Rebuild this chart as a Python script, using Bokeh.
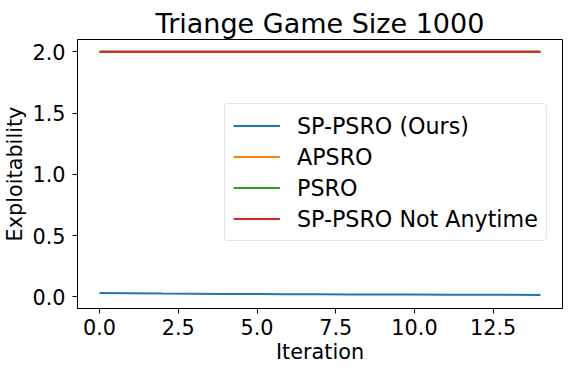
from bokeh.plotting import figure
from bokeh.embed import file_html
from bokeh.resources import INLINE
from bokeh.models import Range1d, FixedTicker, PrintfTickFormatter, Legend, LegendItem

iterations = list(range(15))
sp_psro = [0.030, 0.028, 0.026, 0.025, 0.023, 0.022, 0.021, 0.020, 0.019, 0.018, 0.018, 0.017, 0.017, 0.016, 0.015]
apsro = [2.0] * 15
psro = [2.0] * 15
sp_psro_not_anytime = [2.0] * 15
series_names = ["SP-PSRO (Ours)", "APSRO", "PSRO", "SP-PSRO Not Anytime"]
x_ticks = [0.0, 2.5, 5.0, 7.5, 10.0, 12.5]
y_ticks = [0.0, 0.5, 1.0, 1.5, 2.0]

colors = ["#1f77b4", "#ff7f0e", "#2ca02c", "#d62728"]
FONT = "DejaVu Sans"

p = figure(width=587, height=371, output_backend="svg", toolbar_location=None,
           x_range=Range1d(-0.7, 14.7), y_range=Range1d(-0.096, 2.101),
           min_border_left=76, min_border_right=25, min_border_top=39, min_border_bottom=63)

p.title.text = "Triange Game Size 1000"
p.title.text_font = FONT
p.title.text_font_size = "27px"
p.title.text_font_style = "normal"
p.title.align = "center"
p.title.text_color = "#000000"
p.title.text_line_height = 1.0
p.title.standoff = 2
p.title.offset = 0

p.xgrid.visible = False
p.ygrid.visible = False
p.outline_line_color = "#000000"
p.outline_line_width = 1
p.background_fill_color = "white"

for ax in (p.xaxis[0], p.yaxis[0]):
    ax.axis_line_color = "#000000"
    ax.major_tick_line_color = "#000000"
    ax.major_tick_out = 5
    ax.major_tick_in = 0
    ax.minor_tick_line_color = None
    ax.major_label_text_font = FONT
    ax.major_label_text_font_size = "20.8px"
    ax.major_label_text_color = "#000000"
    ax.major_label_text_line_height = 1.0
    ax.axis_label_text_font = FONT
    ax.axis_label_text_font_size = "20.8px"
    ax.axis_label_text_font_style = "normal"
    ax.axis_label_text_color = "#000000"
    ax.axis_label_text_line_height = 1.0
    ax.formatter = PrintfTickFormatter(format="%.1f")

p.xaxis[0].ticker = FixedTicker(ticks=x_ticks)
p.yaxis[0].ticker = FixedTicker(ticks=y_ticks)
p.xaxis[0].axis_label = "Iteration"
p.yaxis[0].axis_label = "Exploitability"
p.xaxis[0].major_label_standoff = 5
p.yaxis[0].major_label_standoff = 7
p.xaxis[0].axis_label_standoff = 2
p.yaxis[0].axis_label_standoff = 2

items = []
for name, ys, c in zip(series_names, [sp_psro, apsro, psro, sp_psro_not_anytime], colors):
    r = p.line(iterations, ys, line_color=c, line_width=2)
    items.append(LegendItem(label=name, renderers=[r]))

legend = Legend(items=items, location=(147, 67))
legend.label_text_font = FONT
legend.label_text_font_size = "22.2px"
legend.label_text_color = "#000000"
legend.glyph_width = 47
legend.glyph_height = 27
legend.label_height = 27
legend.spacing = 4
legend.label_standoff = 17
legend.padding = 8
legend.margin = 0
legend.border_line_color = "#cccccc"
legend.border_line_width = 1
legend.border_radius = 4
legend.background_fill_alpha = 0.8
p.add_layout(legend, "center")

open("out.html", "w").write(file_html(p, INLINE))
